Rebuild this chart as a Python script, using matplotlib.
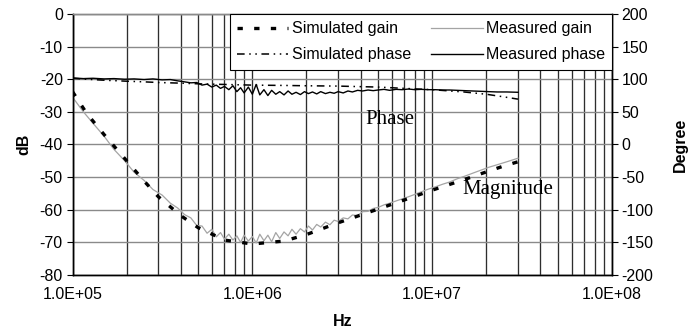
import math
import matplotlib
matplotlib.use('Agg')
import matplotlib.pyplot as plt
from matplotlib.ticker import FixedLocator, FuncFormatter, LogLocator, NullFormatter

plt.rcParams['font.family'] = ['Liberation Sans', 'DejaVu Sans']
plt.rcParams['axes.unicode_minus'] = False

# simulated curves (smooth)
freq_sim = [1.0e5, 1.2e5, 1.5e5, 2.0e5, 2.5e5, 3.0e5, 4.0e5, 5.0e5, 7.0e5, 1.0e6, 1.5e6,
            2.0e6, 3.0e6, 5.0e6, 7.0e6, 1.0e7, 1.5e7, 2.0e7, 2.5e7, 3.0e7]
gain_sim = [-23.8, -30.5, -37.0, -45.0, -51.2, -56.0, -61.8, -65.5, -69.3, -70.5, -69.6,
            -67.6, -64.0, -59.8, -57.0, -54.0, -50.8, -48.4, -46.6, -45.3]
phase_sim = [101.5, 100.0, 98.5, 97.0, 96.0, 95.0, 94.0, 93.0, 92.0, 91.0, 90.5,
             90.0, 89.5, 88.0, 86.0, 84.0, 80.5, 77.0, 73.0, 69.5]

# measured curves (noisy)
freq_meas = [1.00e5, 1.15e5, 1.30e5, 1.50e5, 1.70e5, 1.95e5, 2.20e5, 2.50e5, 2.80e5, 3.15e5,
             3.50e5, 3.85e5, 4.20e5, 4.55e5, 4.90e5, 5.25e5, 5.60e5, 5.95e5, 6.30e5, 6.65e5,
             7.00e5, 7.40e5, 7.80e5, 8.20e5, 8.60e5, 9.00e5, 9.50e5, 1.00e6, 1.05e6, 1.10e6,
             1.16e6, 1.22e6, 1.28e6, 1.35e6, 1.42e6, 1.50e6, 1.58e6, 1.66e6, 1.75e6, 1.85e6,
             1.95e6, 2.05e6, 2.16e6, 2.28e6, 2.40e6, 2.55e6, 2.70e6, 2.85e6, 3.00e6, 3.20e6,
             3.40e6, 3.60e6, 3.85e6, 4.10e6, 4.40e6, 4.70e6, 5.00e6, 5.40e6, 5.80e6, 6.30e6,
             6.80e6, 7.40e6, 8.00e6, 8.70e6, 9.50e6, 1.04e7, 1.14e7, 1.25e7, 1.38e7, 1.52e7,
             1.68e7, 1.86e7, 2.06e7, 2.30e7, 2.60e7, 3.00e7]
gain_meas = [-25.5, -30.0, -33.5, -37.5, -41.5, -45.0, -48.5, -51.0, -53.8, -55.5,
             -58.0, -59.5, -61.5, -62.5, -64.8, -65.0, -67.2, -66.0, -68.3, -67.0,
             -69.0, -67.5, -69.3, -68.0, -70.0, -67.8, -69.6, -68.2, -70.2, -67.5,
             -69.5, -67.8, -69.8, -67.0, -68.8, -66.8, -68.0, -66.0, -67.5, -65.8,
             -66.8, -65.0, -66.2, -64.5, -65.3, -63.8, -64.6, -63.2, -63.6, -62.5,
             -62.8, -61.6, -61.8, -60.6, -60.5, -59.6, -59.3, -58.5, -58.0, -57.3,
             -56.7, -56.0, -55.3, -54.5, -53.7, -53.0, -52.2, -51.5, -50.5, -49.7,
             -48.8, -47.9, -47.0, -46.2, -45.3, -44.2]
phase_meas = [102.0, 101.0, 101.5, 100.5, 101.0, 100.0, 100.5, 99.5, 100.5, 99.0,
              99.5, 97.5, 96.0, 94.5, 95.0, 91.0, 92.5, 88.0, 91.0, 86.0,
              89.0, 84.0, 90.0, 81.0, 87.0, 79.0, 88.0, 77.0, 92.0, 76.0,
              84.0, 75.0, 83.0, 77.0, 81.0, 76.0, 82.0, 77.0, 80.0, 76.5,
              81.0, 78.0, 80.5, 77.5, 81.0, 78.0, 80.0, 78.5, 81.0, 79.0,
              82.0, 80.5, 83.0, 82.0, 83.5, 82.5, 83.5, 84.5, 83.0, 84.5,
              84.0, 85.0, 84.0, 84.5, 84.0, 84.0, 83.5, 83.5, 83.0, 82.5,
              82.0, 81.5, 81.0, 80.5, 80.5, 80.0]

fig = plt.figure(figsize=(7, 3.3), dpi=100)
ax = fig.add_axes([0.1036, 0.1667, 0.7707, 0.7909])
ax2 = ax.twinx()

ax.set_xscale('log')
ax.set_xlim(1e5, 1e8)
ax.set_ylim(-80, 0)
ax2.set_ylim(-200, 200)

# grid: horizontal grey, vertical dark
ax.set_yticks(range(-80, 1, 10))
ax.xaxis.set_major_locator(FixedLocator([1e5, 1e6, 1e7, 1e8]))
ax.xaxis.set_minor_locator(LogLocator(base=10, subs=range(2, 10)))
ax.xaxis.set_minor_formatter(NullFormatter())
ax.xaxis.set_major_formatter(FuncFormatter(lambda v, p: '1.0E+%02d' % round(math.log10(v))))
ax.grid(True, axis='y', color='#8a8a8a', lw=1.0)
ax.grid(True, axis='x', which='both', color='#2e2e2e', lw=0.95)
ax.set_axisbelow(True)

ax.plot(freq_meas, gain_meas, color='#a4a4a4', lw=0.9, label='Measured gain')
ax.plot(freq_sim, gain_sim, color='black', lw=2.4, linestyle=(0, (1.6, 3.4)), label='Simulated gain')
ax2.plot(freq_meas, phase_meas, color='black', lw=1.0, label='Measured phase')
ax2.plot(freq_sim, phase_sim, color='black', lw=1.1, linestyle=(0, (5, 3, 1, 3, 1, 3)), label='Simulated phase')

ax2.set_yticks(range(-200, 201, 50))

for a in (ax, ax2):
    a.tick_params(axis='y', labelsize=11.5, length=4, width=0.8, direction='out', pad=3)
    a.tick_params(axis='x', which='both', length=0, labelsize=11.5, pad=9)
    for s in a.spines.values():
        s.set_linewidth(1.0)
    a.spines['top'].set_color('#8a8a8a')

ax.set_xlabel('Hz', fontsize=11.5, fontweight='bold', labelpad=8)
ax.set_ylabel('dB', fontsize=11.5, fontweight='bold', labelpad=6)
ax2.set_ylabel('Degree', fontsize=11.5, fontweight='bold', labelpad=14)

ax.text(4.27e6, -32.2, 'Phase', family=['Liberation Serif'], fontsize=15, va='center', ha='left')
ax.text(1.47e7, -53.9, 'Magnitude', family=['Liberation Serif'], fontsize=15, va='center', ha='left')

h1, l1 = ax.get_legend_handles_labels()
h2, l2 = ax2.get_legend_handles_labels()
handles = [h1[1], h2[1], h1[0], h2[0]]
labels = [l1[1], l2[1], l1[0], l2[0]]
leg = ax2.legend(handles, labels, ncol=2, loc='upper left', mode='expand',
                 bbox_to_anchor=(0.292, 0.7816, 0.708, 0.2184), borderaxespad=0,
                 fontsize=11.5, handlelength=3.2, handletextpad=0.2, labelspacing=0.7,
                 columnspacing=0.5, fancybox=False, framealpha=1, edgecolor='black',
                 borderpad=0.45)
leg.get_frame().set_linewidth(0.8)

fig.savefig('out.png', dpi=100)
